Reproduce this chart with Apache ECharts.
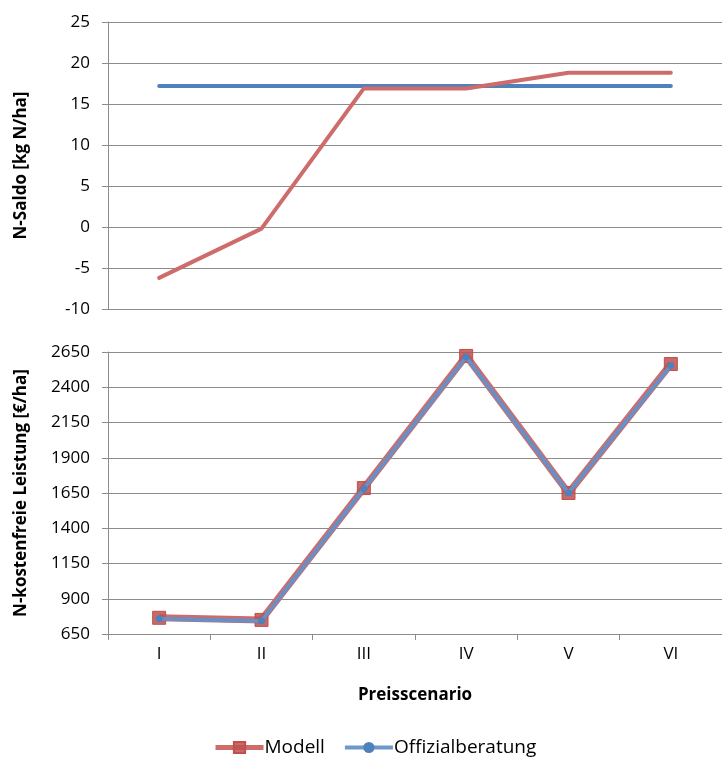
<!DOCTYPE html>
<html>
<head>
<meta charset="utf-8">
<script src="https://cdn.jsdelivr.net/npm/echarts@6/dist/echarts.min.js"></script>
<style>
  html, body { margin: 0; padding: 0; background: #fff; }
  #chart { width: 722px; height: 760px; }
</style>
</head>
<body>
<div id="chart"></div>
<script>
// Preisscenarien
const scenarios = ["I", "II", "III", "IV", "V", "VI"];

// N-Saldo [kg N/ha]
const saldoModell = [-6.2, -0.2, 16.9, 16.9, 18.8, 18.8];
const saldoOffizial = [17.2, 17.2, 17.2, 17.2, 17.2, 17.2];

// N-kostenfreie Leistung [€/ha]
const leistungModell = [765, 750, 1685, 2622, 1650, 2565];
const leistungOffizial = [758, 742, 1680, 2615, 1650, 2555];

const red = "#C0504D";
const redLine = "#CD6C6A";
const blue = "#4F81BD";
const gridGray = "#8C8C8C";
const font = "Open Sans";

const chart = echarts.init(document.getElementById("chart"));

const yAxisCommon = {
  type: "value",
  nameLocation: "middle",
  nameRotate: 90,
  nameTextStyle: { fontFamily: font, fontSize: 17, fontWeight: "bold", color: "#000" },
  axisLine: { show: true, lineStyle: { color: gridGray } },
  axisTick: { show: true, length: 6, lineStyle: { color: gridGray } },
  axisLabel: { fontFamily: font, fontSize: 17, color: "#000", margin: 18, formatter: (v) => String(v) },
  splitLine: { show: true, lineStyle: { color: gridGray, width: 1 } },
};

const option = {
  animation: false,
  backgroundColor: "#fff",
  grid: [
    { left: 108, top: 22, width: 624, height: 287 },
    { left: 108, top: 352, width: 624, height: 282 },
  ],
  legend: {
    bottom: -2,
    left: 208,
    itemWidth: 48,
    itemHeight: 14,
    itemGap: 18,
    textStyle: { fontFamily: font, fontSize: 19, color: "#000", padding: [0, 0, 0, -4] },
    data: [
      { name: "Modell", lineStyle: { width: 5, color: redLine } },
      { name: "Offizialberatung", lineStyle: { width: 4, color: "#7196C9" } },
    ],
  },
  xAxis: [
    {
      gridIndex: 0,
      type: "category",
      data: scenarios,
      axisLine: { show: true, lineStyle: { color: gridGray } },
      axisTick: { show: false },
      axisLabel: { show: false },
    },
    {
      gridIndex: 1,
      type: "category",
      data: scenarios,
      name: "Preisscenario",
      nameLocation: "middle",
      nameGap: 53,
      nameTextStyle: { fontFamily: font, fontSize: 17, fontWeight: "bold", color: "#000" },
      axisLine: { show: true, lineStyle: { color: gridGray } },
      axisTick: { show: true, length: 6, lineStyle: { color: gridGray } },
      axisLabel: { fontFamily: font, fontSize: 17, color: "#000", margin: 12 },
    },
  ],
  yAxis: [
    Object.assign({}, yAxisCommon, {
      gridIndex: 0,
      min: -10,
      max: 25,
      interval: 5,
      name: "N-Saldo [kg N/ha]",
      nameGap: 78,
    }),
    Object.assign({}, yAxisCommon, {
      gridIndex: 1,
      min: 650,
      max: 2650,
      interval: 250,
      name: "N-kostenfreie Leistung [€/ha]",
      nameGap: 78,
    }),
  ],
  series: [
    {
      name: "Modell",
      type: "line",
      xAxisIndex: 1,
      yAxisIndex: 1,
      data: leistungModell,
      symbol: "rect",
      symbolSize: 13,
      itemStyle: { color: "rgba(192,80,77,0.85)", borderColor: red, borderWidth: 1 },
      lineStyle: { color: redLine, width: 7 },
      z: 2,
    },
    {
      name: "Offizialberatung",
      type: "line",
      xAxisIndex: 1,
      yAxisIndex: 1,
      data: leistungOffizial,
      symbol: "circle",
      symbolSize: 7,
      itemStyle: { color: blue },
      lineStyle: { color: "#6A8FC4", width: 4 },
      z: 3,
    },
    {
      name: "Modell",
      type: "line",
      xAxisIndex: 0,
      yAxisIndex: 0,
      data: saldoModell,
      symbol: "none",
      lineStyle: { color: redLine, width: 4, cap: "round" },
      z: 3,
    },
    {
      name: "Offizialberatung",
      type: "line",
      xAxisIndex: 0,
      yAxisIndex: 0,
      data: saldoOffizial,
      symbol: "none",
      lineStyle: { color: blue, width: 4, cap: "round" },
      z: 2,
    },
  ],
};

chart.setOption(option);
</script>
</body>
</html>
